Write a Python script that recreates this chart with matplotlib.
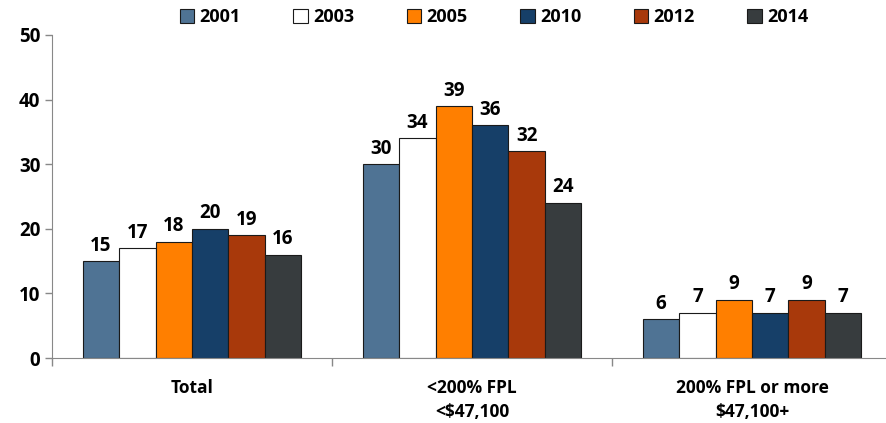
import matplotlib.pyplot as plt
import numpy as np

# data
categories = ['Total', '<200% FPL\n<$47,100', '200% FPL or more\n$47,100+']
years = ['2001', '2003', '2005', '2010', '2012', '2014']
v2001 = [15, 30, 6]
v2003 = [17, 34, 7]
v2005 = [18, 39, 9]
v2010 = [20, 36, 7]
v2012 = [19, 32, 9]
v2014 = [16, 24, 7]
series = [v2001, v2003, v2005, v2010, v2012, v2014]
colors = ['#4F7394', '#FFFFFF', '#FF7F00', '#163F68', '#A8390B', '#373C3E']

plt.rcParams['font.family'] = ['Open Sans', 'DejaVu Sans']
plt.rcParams['font.weight'] = 'bold'

W, H = 886, 423
fig = plt.figure(figsize=(W / 100, H / 100), dpi=100)
ax = fig.add_axes([52 / W, (H - 358) / H, 840 / W, 323 / H])

x = np.arange(len(categories))
bw = 0.13
for i, (vals, c) in enumerate(zip(series, colors)):
    pos = x + (i - 2.5) * bw
    bars = ax.bar(pos, vals, bw, color=c, edgecolor='#1a1a1a', linewidth=0.8,
                  label=years[i])
    for b, v in zip(bars, vals):
        ax.annotate(str(v), (b.get_x() + b.get_width() / 2, v),
                    xytext=(0, 4), textcoords='offset points',
                    ha='center', va='bottom', fontsize=13.5, fontweight='bold')

ax.set_xlim(-0.5, 2.5)
ax.set_ylim(0, 50)
ax.set_yticks(range(0, 51, 10))
ax.tick_params(axis='y', labelsize=13.5, colors='#888888', labelcolor='black',
               length=5, width=1)

# category labels centred, tick marks at group boundaries
ax.set_xticks([-0.5, 0.5, 1.5, 2.5])
ax.set_xticklabels([])
ax.tick_params(axis='x', colors='#888888', length=6, width=1)
ax.set_xticks(x, minor=True)
ax.set_xticklabels(categories, minor=True, fontsize=12.5, fontweight='bold',
                   linespacing=1.45)
ax.tick_params(axis='x', which='minor', length=0, pad=15, labelcolor='black')

for s in ['top', 'right']:
    ax.spines[s].set_visible(False)
for s in ['left', 'bottom']:
    ax.spines[s].set_color('#888888')

fig.legend(loc='center', bbox_to_anchor=(494 / W, (H - 17) / H), ncol=6,
           frameon=False, handlelength=0.8, handleheight=0.8,
           handletextpad=0.3, columnspacing=2.9,
           prop={'weight': 'bold', 'size': 13})

fig.savefig('out.png', dpi=100)
